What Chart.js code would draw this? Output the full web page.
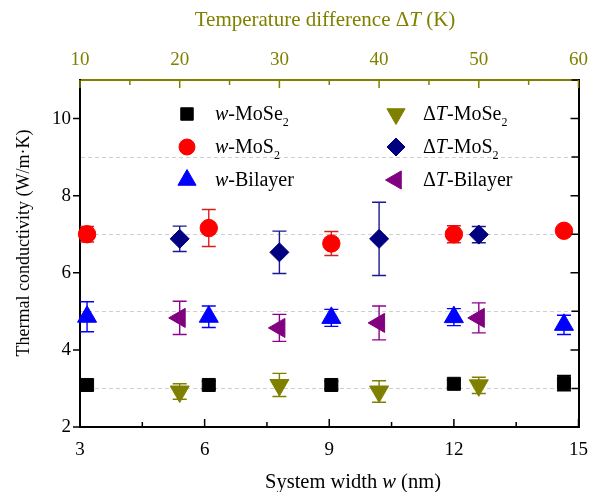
<!DOCTYPE html>
<html>
<head>
<meta charset="utf-8">
<script src="https://cdn.jsdelivr.net/npm/chart.js@4.4.0/dist/chart.umd.min.js"></script>
<style>
  html, body { margin: 0; padding: 0; background: #fff; }
  #wrap { width: 600px; height: 492px; }
</style>
</head>
<body>
<div id="wrap"><canvas id="tc-canvas" width="600" height="492"></canvas></div>
<script>
// x positions
const widthValues = [3.17, 6.1, 9.05, 12.0, 14.65];   // system width w (nm)
const deltaTValues = [20, 30, 40, 50];                 // temperature difference (K)

// thermal conductivity (W/m.K) and error half-widths
const wMoSe2 = [3.09, 3.09, 3.09, 3.12, 3.14];
const wMoSe2Err = [0.12, 0.1, 0.1, 0.1, 0.2];
const wMoS2 = [7.0, 7.16, 6.76, 7.0, 7.09];
const wMoS2Err = [0.2, 0.48, 0.31, 0.22, 0.05];
const wBilayer = [4.86, 4.86, 4.83, 4.85, 4.65];
const wBilayerErr = [0.39, 0.28, 0.22, 0.22, 0.25];

const dtMoSe2 = [2.92, 3.09, 2.92, 3.08];
const dtMoSe2Err = [0.2, 0.3, 0.28, 0.21];
const dtMoS2 = [6.88, 6.53, 6.88, 6.99];
const dtMoS2Err = [0.33, 0.55, 0.95, 0.21];
const dtBilayer = [4.83, 4.57, 4.7, 4.83];
const dtBilayerErr = [0.43, 0.35, 0.44, 0.39];

// axis ticks
const yTicks = [2, 4, 6, 8, 10];
const xTicks = [3, 6, 9, 12, 15];
const tTicks = [10, 20, 30, 40, 50, 60];

const FONT = "'Liberation Serif', 'DejaVu Serif', serif";
const OLIVE = '#808000';

const seriesList = [
    { name: [['w', 'i'], ['-MoSe', ''], ['2', 's']], xs: widthValues, ys: wMoSe2, errs: wMoSe2Err,
      color: '#000000', barColor: '#000000', style: 'rect', rot: 0, r: 9.2, axis: 'x' },
    { name: [['w', 'i'], ['-MoS', ''], ['2', 's']], xs: widthValues, ys: wMoS2, errs: wMoS2Err,
      color: '#ff0000', barColor: '#d42020', style: 'circle', rot: 0, r: 8.7, axis: 'x' },
    { name: [['w', 'i'], ['-Bilayer', '']], xs: widthValues, ys: wBilayer, errs: wBilayerErr,
      color: '#0000ff', barColor: '#0000ff', style: 'triangle', rot: 0, r: 11, axis: 'x' },
    { name: [['\u0394', ''], ['T', 'i'], ['-MoSe', ''], ['2', 's']], xs: deltaTValues, ys: dtMoSe2, errs: dtMoSe2Err,
      color: OLIVE, barColor: OLIVE, style: 'triangle', rot: 180, r: 11, axis: 'x2' },
    { name: [['\u0394', ''], ['T', 'i'], ['-MoS', ''], ['2', 's']], xs: deltaTValues, ys: dtMoS2, errs: dtMoS2Err,
      color: '#000080', barColor: '#1a1a90', style: 'rectRot', rot: 0, r: 9.5, axis: 'x2' },
    { name: [['\u0394', ''], ['T', 'i'], ['-Bilayer', '']], xs: deltaTValues, ys: dtBilayer, errs: dtBilayerErr,
      color: '#800080', barColor: '#900090', style: 'triangle', rot: 270, r: 11, axis: 'x2' }
];

function drawMarker(ctx, s, x, y, r) {
    ctx.fillStyle = s.color;
    ctx.strokeStyle = s.color;
    if (Chart.helpers && Chart.helpers.drawPoint) {
        Chart.helpers.drawPoint(ctx, { pointStyle: s.style, rotation: s.rot, radius: r, borderWidth: 1 }, x, y);
    } else {
        ctx.beginPath();
        ctx.arc(x, y, r, 0, Math.PI * 2);
        ctx.fill();
    }
}

function setPartFont(ctx, p, size) {
    if (p[1] === 's') ctx.font = Math.round(size * 0.62) + 'px ' + FONT;
    else if (p[1] === 'i') ctx.font = 'italic ' + size + 'px ' + FONT;
    else ctx.font = size + 'px ' + FONT;
}

function richWidth(ctx, parts, size) {
    let w = 0;
    ctx.save();
    parts.forEach(p => { setPartFont(ctx, p, size); w += ctx.measureText(p[0]).width; });
    ctx.restore();
    return w;
}

function drawRich(ctx, parts, x, y, size, color) {
    ctx.save();
    ctx.fillStyle = color;
    ctx.textBaseline = 'alphabetic';
    ctx.textAlign = 'left';
    let cx = x;
    parts.forEach(p => {
        setPartFont(ctx, p, size);
        const dy = p[1] === 's' ? size * 0.3 : 0;
        ctx.fillText(p[0], cx, y + dy);
        cx += ctx.measureText(p[0]).width;
    });
    ctx.restore();
}

// inward / outward tick marks, positions come from the scale
function drawTickMarks(ctx, scale, from, to, step, majorEvery, side, color, area, lens) {
    ctx.save();
    ctx.strokeStyle = color;
    ctx.lineWidth = 1.5;
    ctx.beginPath();
    let i = 0;
    for (let v = from; v <= to + 1e-9; v += step, i++) {
        const len = (i % majorEvery === 0) ? lens[0] : lens[1];
        if (!len) continue;
        const p = scale.getPixelForValue(v);
        if (side === 'left') { ctx.moveTo(area.left, p); ctx.lineTo(area.left - len, p); }
        if (side === 'right') { ctx.moveTo(area.right, p); ctx.lineTo(area.right - len, p); }
        if (side === 'bottom') { ctx.moveTo(p, area.bottom); ctx.lineTo(p, area.bottom - len); }
        if (side === 'top') { ctx.moveTo(p, area.top); ctx.lineTo(p, area.top + len); }
    }
    ctx.stroke();
    ctx.restore();
}

const decorPlugin = {
    id: 'decor',
    beforeDatasetsDraw(chart) {
        const ctx = chart.ctx;
        const yScale = chart.scales.y;
        seriesList.forEach(s => {
            const xScale = chart.scales[s.axis];
            ctx.save();
            ctx.strokeStyle = s.barColor;
            ctx.lineWidth = 1.4;
            ctx.beginPath();
            s.xs.forEach((xv, i) => {
                const px = xScale.getPixelForValue(xv);
                const top = yScale.getPixelForValue(s.ys[i] + s.errs[i]);
                const bot = yScale.getPixelForValue(s.ys[i] - s.errs[i]);
                ctx.moveTo(px, top); ctx.lineTo(px, bot);
                ctx.moveTo(px - 7, top); ctx.lineTo(px + 7, top);
                ctx.moveTo(px - 7, bot); ctx.lineTo(px + 7, bot);
            });
            ctx.stroke();
            ctx.restore();
        });
    },
    afterDraw(chart) {
        const ctx = chart.ctx;
        const area = chart.chartArea;
        const sc = chart.scales;

        drawTickMarks(ctx, sc.y, 2, 11, 1, 2, 'left', '#000', area, [7, 0]);
        drawTickMarks(ctx, sc.y, 2, 11, 1, 2, 'right', '#000', area, [8, 7]);
        drawTickMarks(ctx, sc.x, 3, 15, 1.5, 2, 'bottom', '#000', area, [8, 5]);
        drawTickMarks(ctx, sc.x2, 10, 60, 5, 2, 'top', OLIVE, area, [8, 5]);

        // axis titles
        const topTitle = [['Temperature difference \u0394', ''], ['T', 'i'], [' (K)', '']];
        drawRich(ctx, topTitle, 325 - richWidth(ctx, topTitle, 21) / 2, 26, 21, OLIVE);
        const botTitle = [['System width ', ''], ['w', 'i'], [' (nm)', '']];
        drawRich(ctx, botTitle, 265, 488, 20.5, '#000');

        ctx.save();
        ctx.translate(24, 243);
        ctx.rotate(-Math.PI / 2);
        ctx.font = '18px ' + FONT;
        ctx.fillStyle = '#000';
        ctx.textAlign = 'center';
        ctx.textBaseline = 'middle';
        ctx.fillText('Thermal conductivity (W/m\u00b7K)', 0, 0);
        ctx.restore();

        // legend inside the plot
        const rows = [114, 147, 180];
        const legendR = [8.8, 8, 10.5, 10.5, 9, 10.5];
        seriesList.forEach((s, i) => {
            const col = i < 3 ? 0 : 1;
            const row = i % 3;
            const mx = col === 0 ? 187 : 396;
            const tx = col === 0 ? 215 : 423;
            ctx.save();
            drawMarker(ctx, s, mx, rows[row], legendR[i]);
            ctx.restore();
            drawRich(ctx, s.name, tx, rows[row] + 6, 20, '#000');
        });
    }
};

const datasets = seriesList.map(s => ({
    type: 'scatter',
    xAxisID: s.axis,
    yAxisID: 'y',
    data: s.xs.map((xv, i) => ({ x: xv, y: s.ys[i] })),
    pointStyle: s.style,
    rotation: s.rot,
    radius: s.r,
    hoverRadius: s.r,
    backgroundColor: s.color,
    borderColor: s.color,
    borderWidth: 1,
    showLine: false,
    clip: false
}));

const tickFont = { family: FONT, size: 19 };

new Chart(document.getElementById('tc-canvas').getContext('2d'), {
    type: 'scatter',
    data: { datasets: datasets },
    options: {
        responsive: false,
        animation: false,
        devicePixelRatio: 1,
        layout: { padding: 0 },
        events: [],
        scales: {
            x: {
                type: 'linear',
                position: 'bottom',
                min: 3,
                max: 15,
                afterBuildTicks: s => { s.ticks = xTicks.map(v => ({ value: v })); },
                afterFit: s => { s.height = 65; },
                ticks: { color: '#000', font: tickFont, padding: 12, maxRotation: 0 },
                grid: { display: false, drawTicks: false },
                border: { color: '#000', width: 2 }
            },
            x2: {
                type: 'linear',
                position: 'top',
                min: 10,
                max: 60,
                afterBuildTicks: s => { s.ticks = tTicks.map(v => ({ value: v })); },
                afterFit: s => { s.height = 80; },
                ticks: { color: OLIVE, font: tickFont, padding: 9, maxRotation: 0 },
                grid: { display: false, drawTicks: false },
                border: { color: OLIVE, width: 2 }
            },
            y: {
                type: 'linear',
                position: 'left',
                min: 2,
                max: 11,
                afterBuildTicks: s => {
                    const t = [];
                    for (let v = 2; v <= 11; v++) t.push({ value: v });
                    s.ticks = t;
                },
                afterFit: s => { s.width = 80; },
                ticks: {
                    color: '#000',
                    font: tickFont,
                    padding: 9,
                    callback: v => yTicks.includes(v) ? String(v) : ''
                },
                grid: {
                    drawTicks: false,
                    lineWidth: 1,
                    color: c => (c.tick && c.tick.value % 2 === 1 && c.tick.value < 11) ? '#cfcfcf' : 'rgba(0,0,0,0)'
                },
                border: { color: '#000', width: 2, dash: [4, 3] }
            },
            yR: {
                type: 'linear',
                position: 'right',
                min: 2,
                max: 11,
                afterFit: s => { s.width = 12; },
                ticks: { display: false },
                grid: { display: false, drawTicks: false },
                border: { color: '#000', width: 2 }
            }
        },
        plugins: {
            legend: { display: false },
            tooltip: { enabled: false },
            title: { display: false }
        }
    },
    plugins: [decorPlugin]
});
</script>
</body>
</html>
